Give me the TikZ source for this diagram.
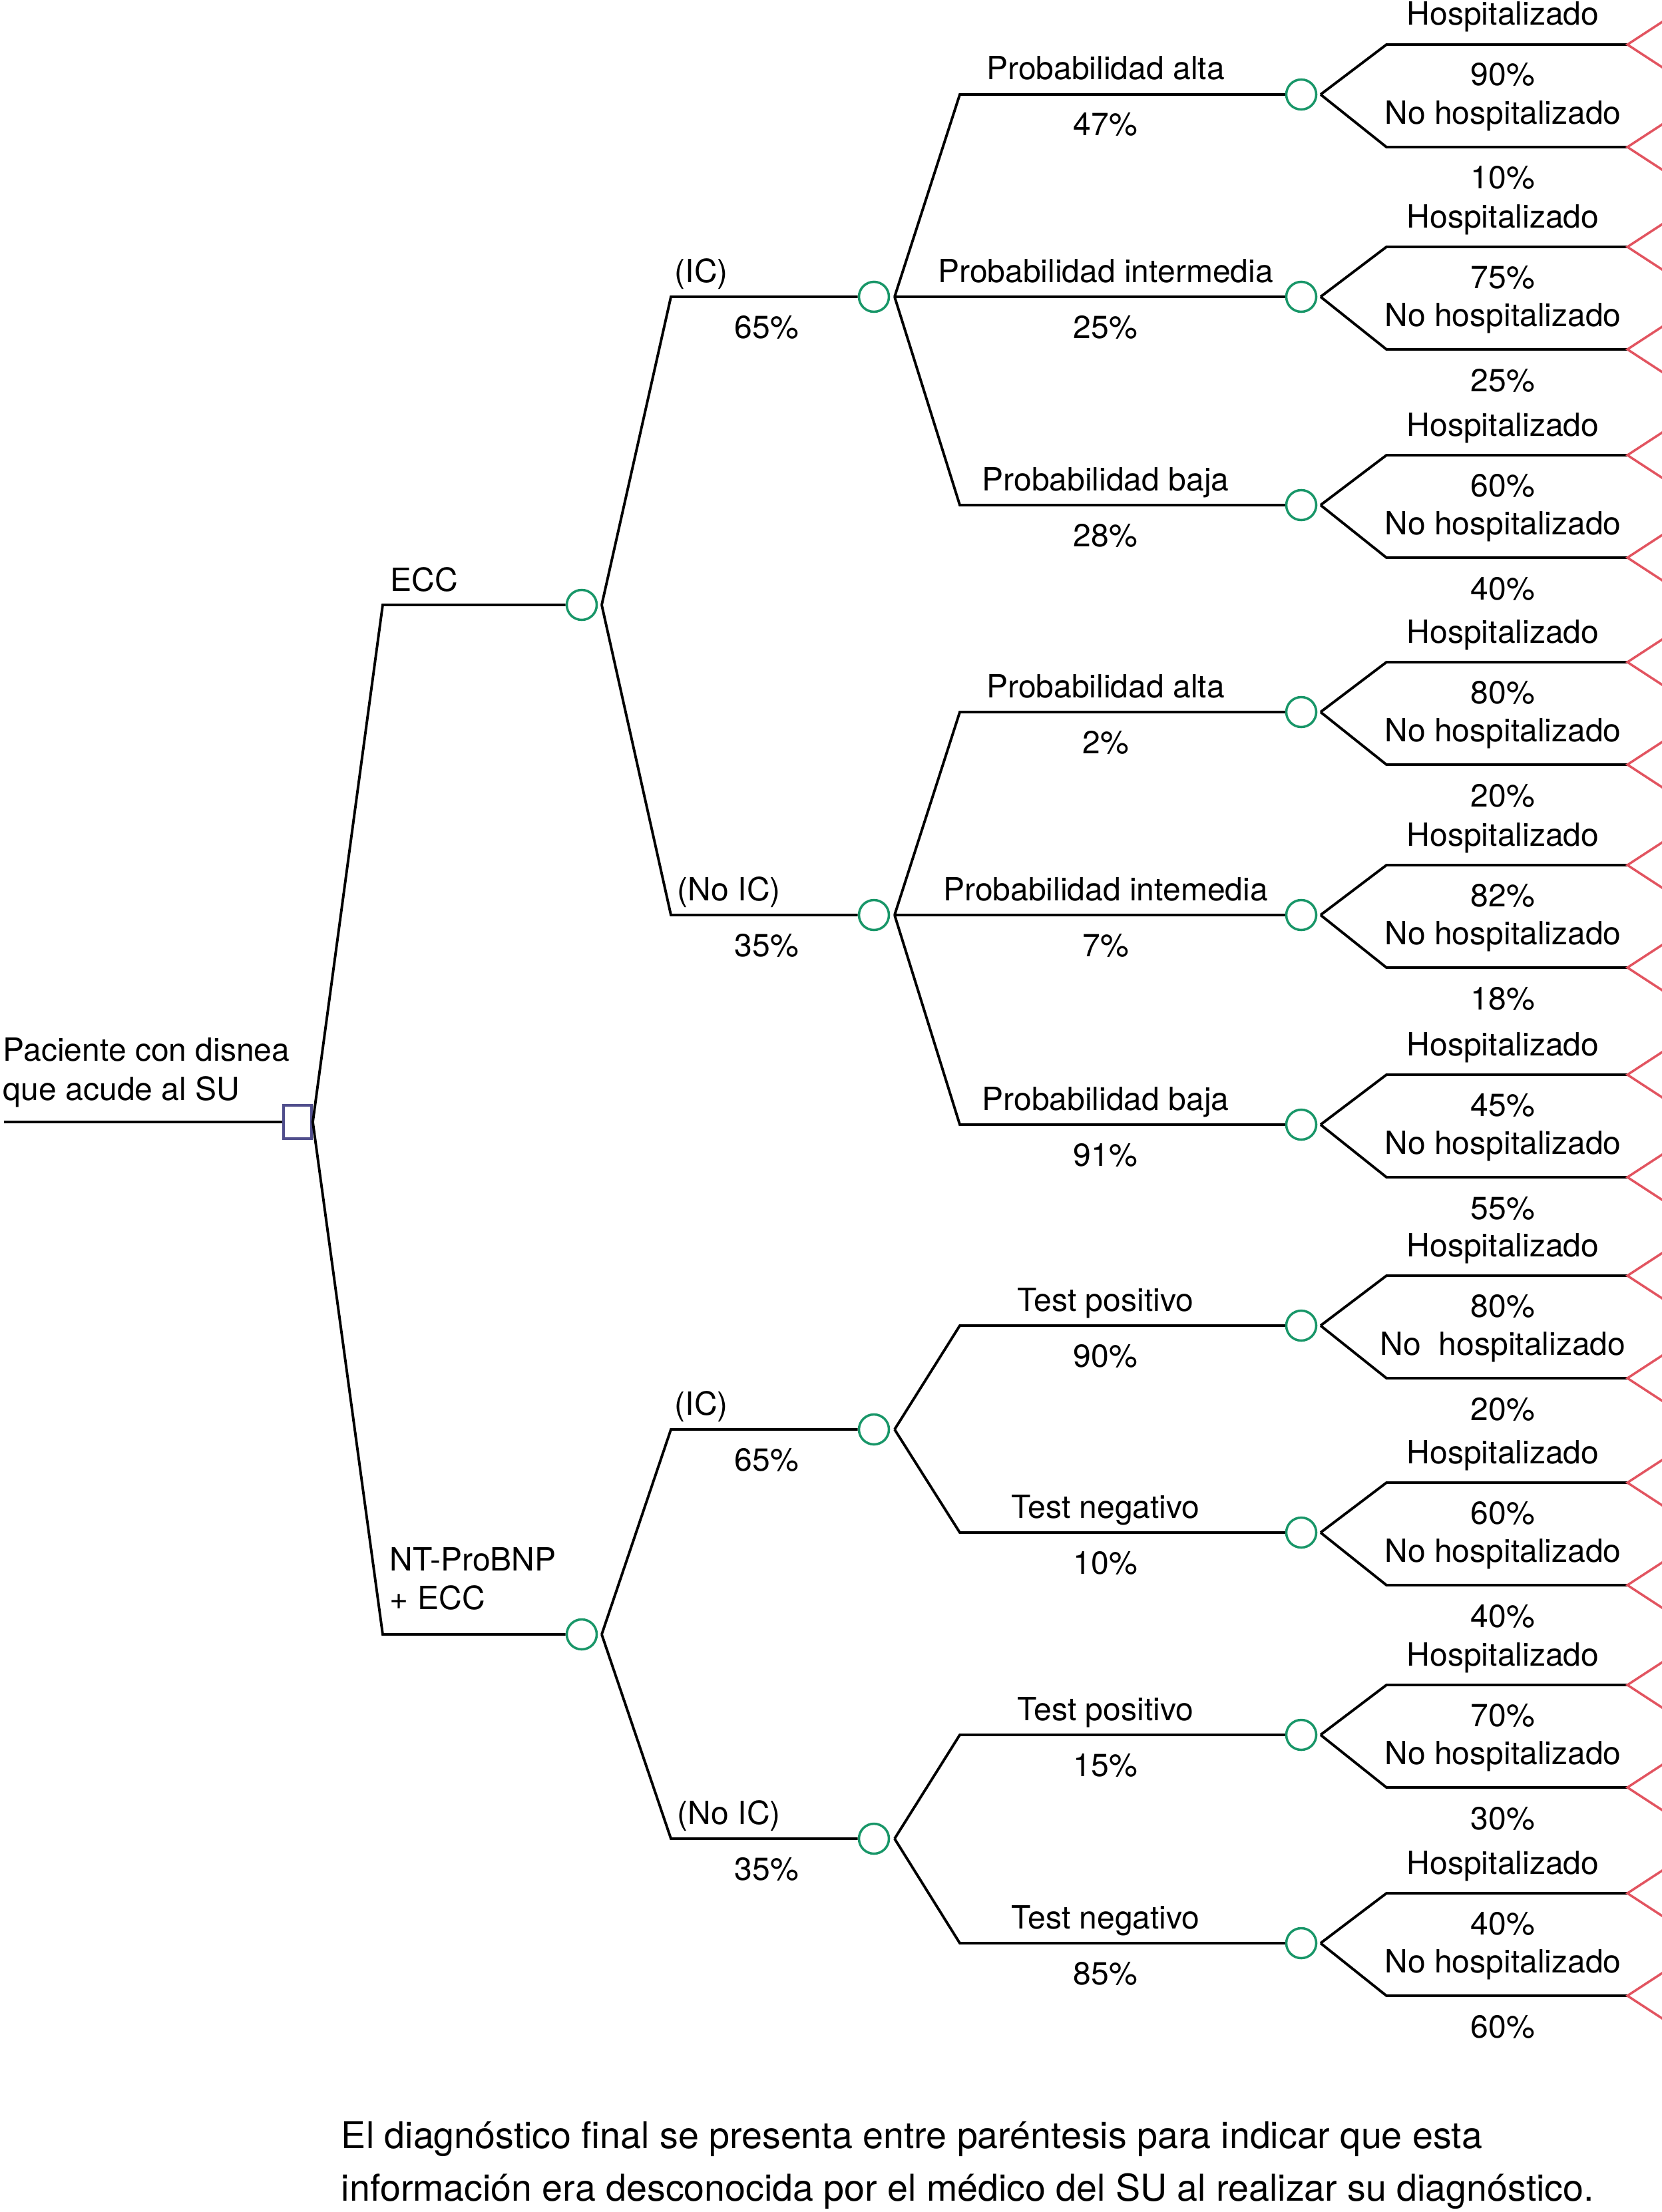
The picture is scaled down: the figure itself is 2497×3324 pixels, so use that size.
\documentclass[tikz,border=0pt]{standalone}
\usepackage{fontspec}
\setmainfont{TeX Gyre Heros}
\definecolor{chgreen}{RGB}{24,150,104}
\definecolor{decblue}{RGB}{80,78,140}
\definecolor{endred}{RGB}{226,84,96}

\begin{document}
\begin{tikzpicture}[x=0.01cm,y=-0.01cm,line width=1.1pt,
  chance/.style={circle,draw=chgreen,line width=1pt,minimum size=0.45cm,inner sep=0pt},
  choice/.style={rectangle,draw=decblue,line width=1.1pt,minimum width=0.42cm,minimum height=0.50cm,inner sep=0pt},
  terminal/.style={draw=endred,line width=1pt},
  lbl/.style={anchor=base,inner sep=0pt,font=\fontsize{13.66}{16}\selectfont},
  lbw/.style={lbl,anchor=base west},
  note/.style={anchor=base west,inner sep=0pt,font=\fontsize{15.8}{19}\selectfont}]
\useasboundingbox (0,0) rectangle (2497,3324);
\clip (0,0) rectangle (2497,3324);

% root
\node[lbw] (pac1) at (3,1594) {Paciente con disnea};
\node[lbw] (pac2) at (3,1653) {que acude al SU};
\node[choice] (sq) at (447,1686) {};
\coordinate (in) at (6,1686);
\draw (in) -- (sq);

% first level
\node[chance] (ecc) at (874,909) {};
\node[chance] (nt) at (874,2456) {};
\coordinate (ecc0) at (575,909);
\coordinate (nt0) at (575,2456);
\draw (sq.east) -- (ecc0) -- (ecc);
\draw (sq.east) -- (nt0) -- (nt);
\node[lbw] (eccl) at (585,888) {ECC};
\node[lbw] (ntl1) at (584,2360) {NT-ProBNP};
\node[lbw] (ntl2) at (584,2418) {+ ECC};

% second level
\coordinate (eccv) at (904,909);
\coordinate (ntv) at (904,2456);
\node[chance] (eic) at (1313,446) {};
\node[chance] (enic) at (1313,1375) {};
\node[chance] (nic) at (1313,2148) {};
\node[chance] (nnic) at (1313,2763) {};
\coordinate (eic0) at (1008,446);
\coordinate (enic0) at (1008,1375);
\coordinate (nic0) at (1008,2148);
\coordinate (nnic0) at (1008,2763);
\draw (eccv) -- (eic0) -- (eic);
\draw (eccv) -- (enic0) -- (enic);
\draw (ntv) -- (nic0) -- (nic);
\draw (ntv) -- (nnic0) -- (nnic);
\node[lbw] (eicl) at (1012,424) {(IC)};
\node[lbl] (eicp) at (1152,508) {65\%};
\node[lbw] (enicl) at (1016,1353) {(No IC)};
\node[lbl] (enicp) at (1152,1437) {35\%};
\node[lbw] (nicl) at (1012,2126) {(IC)};
\node[lbl] (nicp) at (1152,2210) {65\%};
\node[lbw] (nnicl) at (1016,2741) {(No IC)};
\node[lbl] (nnicp) at (1152,2825) {35\%};

% third level
\coordinate (eicv) at (1344,446);
\coordinate (enicv) at (1344,1375);
\coordinate (nicv) at (1344,2148);
\coordinate (nnicv) at (1344,2763);
\node[chance] (p1) at (1955,142) {};
\node[chance] (p2) at (1955,446) {};
\node[chance] (p3) at (1955,759) {};
\node[chance] (p4) at (1955,1070) {};
\node[chance] (p5) at (1955,1375) {};
\node[chance] (p6) at (1955,1690) {};
\node[chance] (p7) at (1955,1992) {};
\node[chance] (p8) at (1955,2303) {};
\node[chance] (p9) at (1955,2607) {};
\node[chance] (p10) at (1955,2920) {};
\coordinate (k1) at (1442,142);
\coordinate (k3) at (1442,759);
\coordinate (k4) at (1442,1070);
\coordinate (k6) at (1442,1690);
\coordinate (k7) at (1442,1992);
\coordinate (k8) at (1442,2303);
\coordinate (k9) at (1442,2607);
\coordinate (k10) at (1442,2920);
\draw (eicv) -- (k1) -- (p1);
\draw (eicv) -- (p2);
\draw (eicv) -- (k3) -- (p3);
\draw (enicv) -- (k4) -- (p4);
\draw (enicv) -- (p5);
\draw (enicv) -- (k6) -- (p6);
\draw (nicv) -- (k7) -- (p7);
\draw (nicv) -- (k8) -- (p8);
\draw (nnicv) -- (k9) -- (p9);
\draw (nnicv) -- (k10) -- (p10);
\node[lbl] (q1) at (1661,120) {Probabilidad alta};
\node[lbl] (r1) at (1661,204) {47\%};
\node[lbl] (q2) at (1661,424) {Probabilidad intermedia};
\node[lbl] (r2) at (1661,508) {25\%};
\node[lbl] (q3) at (1661,737) {Probabilidad baja};
\node[lbl] (r3) at (1661,821) {28\%};
\node[lbl] (q4) at (1661,1048) {Probabilidad alta};
\node[lbl] (r4) at (1661,1132) {2\%};
\node[lbl] (q5) at (1661,1353) {Probabilidad intemedia};
\node[lbl] (r5) at (1661,1437) {7\%};
\node[lbl] (q6) at (1661,1668) {Probabilidad baja};
\node[lbl] (r6) at (1661,1752) {91\%};
\node[lbl] (q7) at (1661,1970) {Test positivo};
\node[lbl] (r7) at (1661,2054) {90\%};
\node[lbl] (q8) at (1661,2281) {Test negativo};
\node[lbl] (r8) at (1661,2365) {10\%};
\node[lbl] (q9) at (1661,2585) {Test positivo};
\node[lbl] (r9) at (1661,2669) {15\%};
\node[lbl] (q10) at (1661,2898) {Test negativo};
\node[lbl] (r10) at (1661,2982) {85\%};

% outcomes
\foreach \y/\hp/\np/\nh [count=\i] in {142/90/10/No hospitalizado, 446/75/25/No hospitalizado,
    759/60/40/No hospitalizado, 1070/80/20/No hospitalizado, 1375/82/18/No hospitalizado,
    1690/45/55/No hospitalizado, 1992/80/20/No\ \ hospitalizado, 2303/60/40/No hospitalizado,
    2607/70/30/No hospitalizado, 2920/40/60/No hospitalizado}{
  \coordinate (lv\i) at (1984,\y);
  \coordinate (lu\i) at (2083,\y-75);
  \coordinate (ld\i) at (2083,\y+79);
  \coordinate (tu\i) at (2445,\y-75);
  \coordinate (td\i) at (2445,\y+79);
  \draw (lv\i) -- (lu\i) -- (tu\i);
  \draw (lv\i) -- (ld\i) -- (td\i);
  \draw[terminal] (tu\i) -- ++(115,-75) -- ++(0,150) -- cycle;
  \draw[terminal] (td\i) -- ++(115,-75) -- ++(0,150) -- cycle;
  \node[lbl] (hs\i) at (2258,\y-104) {Hospitalizado};
  \node[lbl] (hp\i) at (2258,\y-13) {\hp\%};
  \node[lbl] (ns\i) at (2258,\y+44) {\nh};
  \node[lbl] (np\i) at (2258,\y+142) {\np\%};
}

% caption
\node[note] (cap1) at (511,3228) {El diagnóstico final se presenta entre paréntesis para indicar que esta};
\node[note] (cap2) at (511,3307) {información era desconocida por el médico del SU al realizar su diagnóstico.};
\end{tikzpicture}
\end{document}
